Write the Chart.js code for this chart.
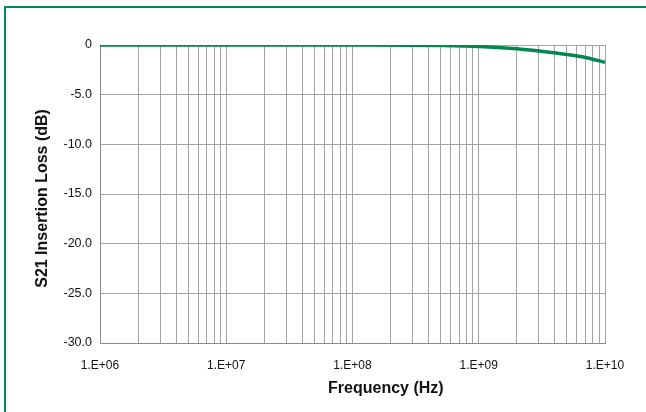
<!DOCTYPE html>
<html>
<head>
<meta charset="utf-8">
<script src="https://cdn.jsdelivr.net/npm/chart.js@4"></script>
<style>
  html, body { margin: 0; padding: 0; background: #fff; overflow: hidden; }
  #wrap { position: relative; width: 646px; height: 412px; overflow: hidden; }
  #frame { position: absolute; left: 4px; top: 6px; width: 700px; height: 460px;
           border: 2px solid #008a55; box-sizing: border-box; }
  #chart-s21 { position: absolute; left: 0; top: 0; }
</style>
</head>
<body>
<div id="wrap">
  <div id="frame"></div>
  <canvas id="chart-s21" width="646" height="412"></canvas>
</div>
<script>
// S21 insertion loss vs frequency

const freqHz = [1e6, 1e7, 1e8, 3e8, 5e8, 1e9, 2e9, 3e9, 5e9, 7e9, 1e10];
const lossDb = [0, 0, 0, -0.02, -0.05, -0.15, -0.38, -0.6, -0.95, -1.25, -1.75];

const yTicks = [0, -5, -10, -15, -20, -25, -30];
const decades = [6, 7, 8, 9, 10];
const steps = [1, 2, 3, 4, 5, 6, 7, 8, 9];

const xTicks = [];
decades.forEach(function (d) {
  steps.forEach(function (s) {
    if (d < 10 || s === 1) xTicks.push(s * Math.pow(10, d));
  });
});

const font = "'Liberation Sans', Arial, Helvetica, sans-serif";

const dataS21 = {
  datasets: [{
    data: freqHz.map(function (f, i) { return { x: f, y: lossDb[i] }; }),
    borderColor: '#00894f',
    borderWidth: 3.5,
    pointRadius: 0,
    fill: false,
    cubicInterpolationMode: 'monotone'
  }]
};

const configS21 = {
  type: 'line',
  data: dataS21,
  options: {
    responsive: false,
    animation: false,
    layout: { padding: { top: 45, right: 41, bottom: 0, left: 0 } },
    plugins: {
      legend: { display: false },
      tooltip: { enabled: false }
    },
    scales: {
      x: {
        type: 'logarithmic',
        min: 1e6,
        max: 1e10,
        afterBuildTicks: function (scale) {
          scale.ticks = xTicks.map(function (v) { return { value: v }; });
        },
        afterFit: function (scale) { scale.height = 69; },
        grid: { color: '#a3a3a3', lineWidth: 1, drawTicks: false },
        border: { color: '#8c8c8c' },
        ticks: {
          autoSkip: false,
          maxRotation: 0,
          padding: 15,
          color: '#111',
          font: { family: font, size: 12 },
          callback: function (v) {
            const e = Math.log10(v);
            if (Math.abs(e - Math.round(e)) > 1e-9) return '';
            const n = Math.round(e);
            return '1.E+' + (n < 10 ? '0' + n : n);
          }
        },
        title: {
          display: true,
          // leading spaces push the title right, as in the original
          text: '               Frequency (Hz)',
          color: '#111',
          padding: { top: 0, bottom: 14 },
          font: { family: font, size: 16, weight: 'bold' }
        }
      },
      y: {
        min: -30,
        max: 0,
        afterBuildTicks: function (scale) {
          scale.ticks = yTicks.map(function (v) { return { value: v }; });
        },
        afterFit: function (scale) { scale.width = 100; },
        grid: { color: '#a3a3a3', lineWidth: 1, drawTicks: false },
        border: { color: '#8c8c8c' },
        ticks: {
          padding: 8,
          color: '#111',
          font: { family: font, size: 12.5 },
          callback: function (v) { return v === 0 ? '0' : v.toFixed(1); }
        },
        title: {
          display: true,
          text: 'S21 Insertion Loss (dB)  ',
          color: '#111',
          padding: { top: 33, bottom: 0 },
          font: { family: font, size: 16, weight: 'bold' }
        }
      }
    }
  }
};

const chartS21 = new Chart(
  document.getElementById('chart-s21'),
  configS21
);
</script>
</body>
</html>
